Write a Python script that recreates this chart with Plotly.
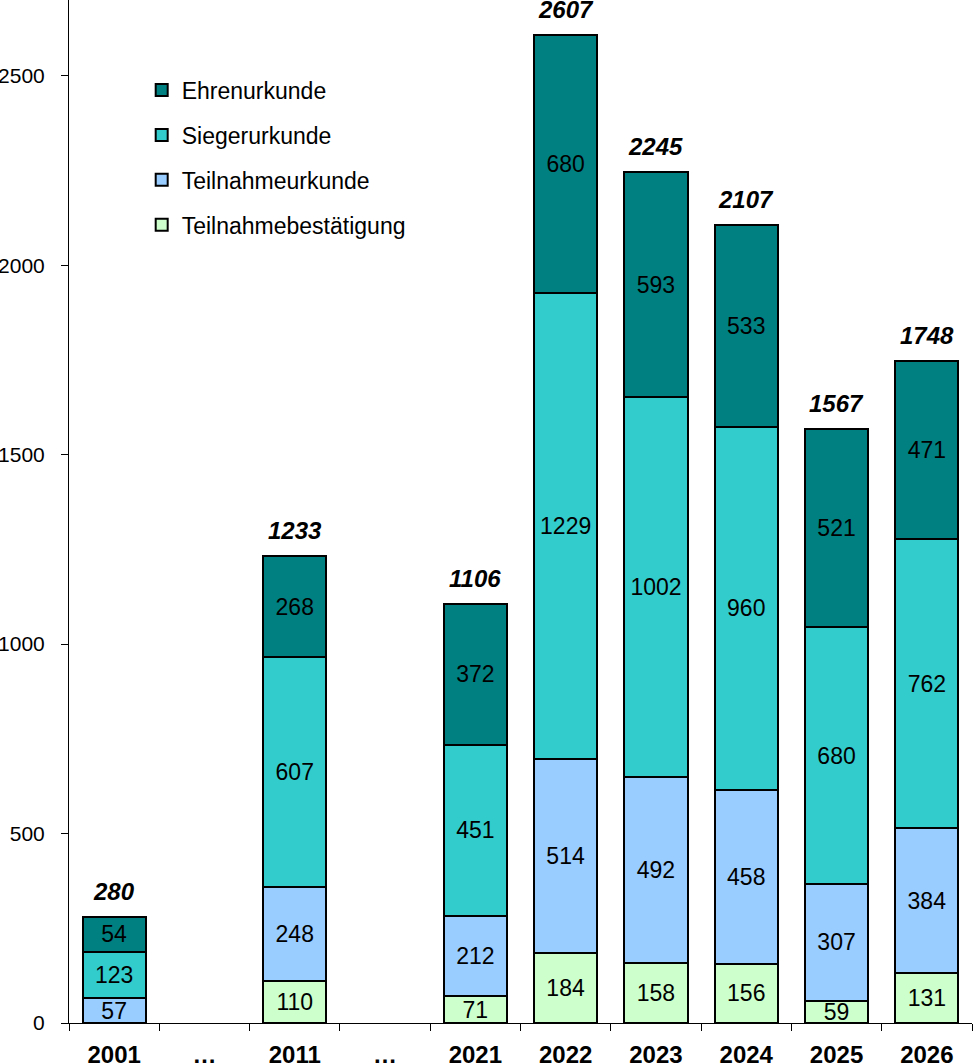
import plotly.graph_objects as go

# Categories (the "…" entries are empty gap columns)
categories = ["2001", "…", "2011", "…\u200b", "2021", "2022", "2023", "2024", "2025", "2026"]

# Series values (bar heights as drawn)
teilnahmebestaetigung = [None, None, 110, None, 71, 184, 158, 156, 59, 131]
teilnahmeurkunde = [65, None, 248, None, 212, 514, 492, 458, 307, 384]
siegerurkunde = [123, None, 607, None, 451, 1229, 1002, 960, 680, 762]
ehrenurkunde = [92, None, 268, None, 372, 680, 593, 533, 521, 471]

# Printed segment labels (2001 labels differ from drawn heights in the original)
teilnahmeurkunde_labels = [57, None, 248, None, 212, 514, 492, 458, 307, 384]
ehrenurkunde_labels = [54, None, 268, None, 372, 680, 593, 533, 521, 471]

# Totals printed above the bars
totals = [280, None, 1233, None, 1106, 2607, 2245, 2107, 1567, 1748]

y_ticks = [0, 500, 1000, 1500, 2000, 2500]

FONT = "Liberation Sans, Arial, sans-serif"

series = [
    ("Teilnahmebestätigung", teilnahmebestaetigung, teilnahmebestaetigung, "#CCFFCC", 4),
    ("Teilnahmeurkunde", teilnahmeurkunde, teilnahmeurkunde_labels, "#99CCFF", 3),
    ("Siegerurkunde", siegerurkunde, siegerurkunde, "#33CCCC", 2),
    ("Ehrenurkunde", ehrenurkunde, ehrenurkunde_labels, "#008080", 1),
]

fig = go.Figure()
for name, vals, labels, color, rank in series:
    fig.add_trace(go.Bar(
        name=name,
        x=categories,
        y=vals,
        text=["" if v is None else str(v) for v in labels],
        textposition="inside",
        insidetextanchor="middle",
        textangle=0,
        textfont=dict(family=FONT, size=23, color="black"),
        marker=dict(color=color, line=dict(color="black", width=2)),
        legendgroup=name,
        legendrank=rank,
        hoverinfo="skip",
        constraintext="none",
    ))

for i, tot in enumerate(totals):
    if tot is None:
        continue
    fig.add_annotation(
        x=i, y=tot, xref="x", yref="y",
        text=f"<b><i>{tot}</i></b>",
        showarrow=False, yanchor="bottom", yshift=10,
        font=dict(family=FONT, size=24, color="black"),
    )

fig.update_layout(
    width=973, height=1063,
    margin=dict(l=69, r=1, t=0, b=40, autoexpand=False),
    barmode="stack",
    bargap=0.3,
    plot_bgcolor="white",
    paper_bgcolor="white",
    font=dict(family=FONT, color="black"),
    uniformtext=dict(minsize=23, mode="show"),
    legend=dict(
        x=0.0805, y=0.933, xanchor="left", yanchor="top",
        traceorder="grouped",
        tracegroupgap=12,
        font=dict(family=FONT, size=23, color="black"),
        bgcolor="rgba(0,0,0,0)",
    ),
    showlegend=True,
)

fig.update_xaxes(
    type="category",
    categoryorder="array", categoryarray=categories,
    range=[-0.5, len(categories) - 0.5],
    automargin=False,
    showline=True, linecolor="black", linewidth=1,
    ticks="outside", tickson="boundaries", ticklen=7, tickcolor="black",
    ticklabelstandoff=10,
    tickfont=dict(family=FONT, size=24, color="black", weight="bold"),
    showgrid=False, zeroline=False,
)
fig.update_yaxes(
    range=[0, 2700],
    tickvals=y_ticks,
    automargin=False,
    showline=True, linecolor="black", linewidth=1,
    ticks="outside", ticklen=7, tickcolor="black",
    ticklabelstandoff=12,
    tickfont=dict(family=FONT, size=21, color="black"),
    showgrid=False, zeroline=False,
)

fig.write_html("out.html", config={"displayModeBar": False},
               post_script="document.body.style.margin='0';")
